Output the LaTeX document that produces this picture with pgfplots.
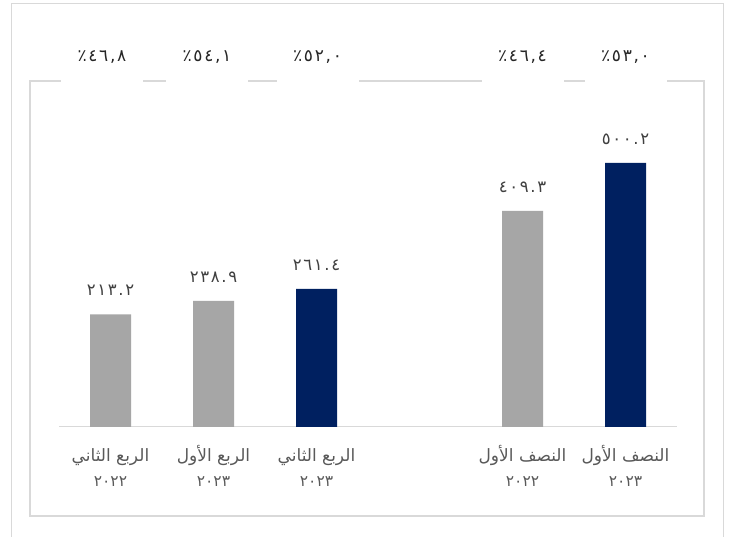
\documentclass[border=0pt]{standalone}
\usepackage{fontspec}
\usepackage{pgfplots}
\usepackage{pgfplotstable}
\pgfplotsset{compat=1.18}
\TeXXeTstate=1
\setmainfont{DejaVu Sans}
\newfontfamily\arabicfont[Script=Arabic]{DejaVu Sans}
\newfontfamily\digitfont[LetterSpace=10]{DejaVu Sans}
\definecolor{barGray}{HTML}{A6A6A6}
\definecolor{barNavy}{HTML}{002060}
\definecolor{frameGray}{HTML}{D9D9D9}
\definecolor{txtGray}{HTML}{595959}
\definecolor{valGray}{HTML}{404040}
\newcommand{\yr}[1]{{\fontsize{15.5}{24}\selectfont #1}}
\newcommand{\st}{\rule{0pt}{18pt}}

\pgfplotstableread{
x y lab
0 213.2 ٢١٣.٢
1 238.9 ٢٣٨.٩
4 409.3 ٤٠٩.٣
}\graydata
\pgfplotstableread{
x y lab
2 261.4 ٢٦١.٤
5 500.2 ٥٠٠.٢
}\navydata

\begin{document}
\begin{tikzpicture}[x=1pt,y=1pt]
\path[use as bounding box] (0,0) rectangle (730,537);
\fill[white] (0,0) rectangle (730,537);
\draw[frameGray, line width=0.8pt] (11,0) -- (11,534) -- (723,534) -- (723,0);
\draw[frameGray, line width=1.5pt] (30,456) rectangle (704,21);
\begin{axis}[
  at={(110.5pt,110pt)}, anchor=origin,
  x=103pt, y=0.528pt,
  xmin=-0.5, xmax=5.5, ymin=0, ymax=550,
  axis x line*=bottom, axis y line=none,
  x axis line style={frameGray, line width=1pt, -},
  xtick={0,1,2,4,5},
  xticklabels={
    {\st\beginR الربع الثاني\endR\\\yr{٢٠٢٢}},
    {\st\beginR الربع الأول\endR\\\yr{٢٠٢٣}},
    {\st\beginR الربع الثاني\endR\\\yr{٢٠٢٣}},
    {\st\beginR النصف الأول\endR\\\yr{٢٠٢٢}},
    {\st\beginR النصف الأول\endR\\\yr{٢٠٢٣}}},
  major tick length=0pt,
  ytick=\empty,
  clip=false,
  ybar, bar width=41pt,
  xticklabel style={align=center, font=\arabicfont\fontsize{17}{25}\selectfont, text=txtGray, yshift=-13pt},
  nodes near coords,
  point meta=explicit symbolic,
  every node near coord/.append style={font=\digitfont\fontsize{16.5}{18}\selectfont, text=valGray, anchor=south, yshift=15pt},
]
\addplot[fill=barGray, draw=none, bar shift=0pt] table[x=x, y=y, meta=lab] {\graydata};
\addplot[fill=barNavy, draw=none, bar shift=0pt] table[x=x, y=y, meta=lab] {\navydata};
\begin{scope}[every node/.style={fill=white, minimum width=82pt, minimum height=56pt, font=\digitfont\fontsize{17}{18}\selectfont, text=black!85}]
\node at (axis cs:-0.083,700) {٪٤٦,٨};
\node at (axis cs:0.937,700) {٪٥٤,١};
\node at (axis cs:2.01,700) {٪٥٢,٠};
\node at (axis cs:4.0,700) {٪٤٦,٤};
\node at (axis cs:5.0,700) {٪٥٣,٠};
\end{scope}
\end{axis}
\end{tikzpicture}
\end{document}
